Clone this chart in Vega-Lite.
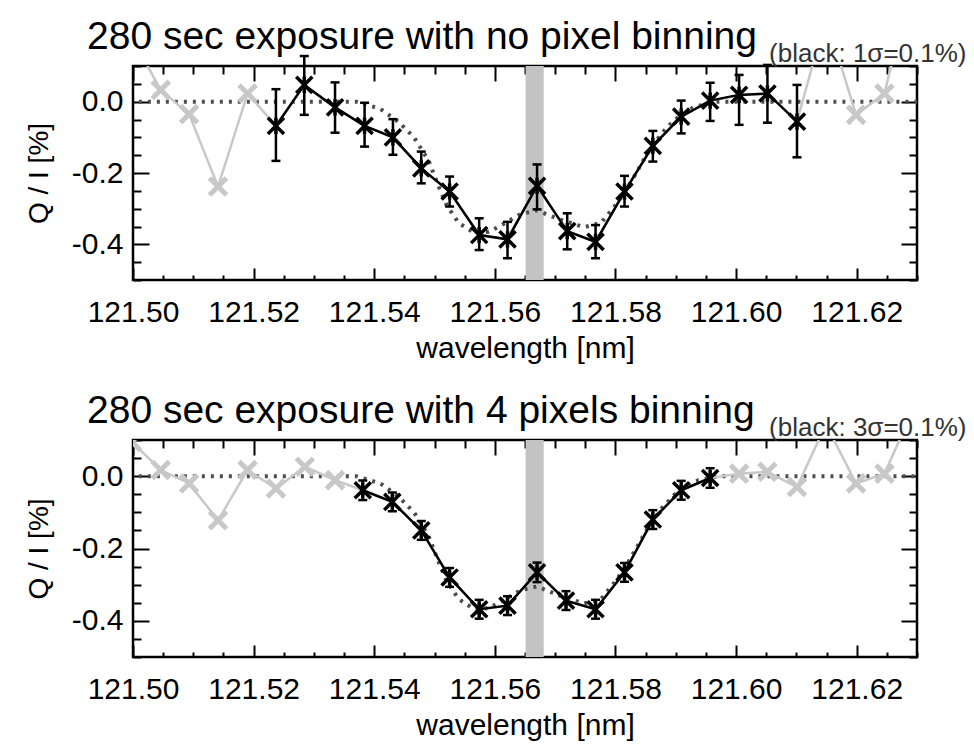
{
  "$schema": "https://vega.github.io/schema/vega-lite/v6.json",
  "background": "white",
  "padding": {"left": 24, "top": 16, "right": 5, "bottom": 5},
  "spacing": 25,
  "config": {
    "font": "Liberation Sans",
    "view": {"stroke": "black", "strokeWidth": 2.5, "fill": "white"},
    "axis": {"grid": false, "domain": false, "labelFont": "Liberation Sans", "titleFont": "Liberation Sans", "labelColor": "#000", "titleColor": "#000", "titleFontWeight": "normal", "tickColor": "#000"},
    "title": {"font": "Liberation Sans", "fontWeight": "normal", "color": "#000"}
  },
  "datasets": {
    "p1": [
      {"wl": 121.4998, "q": 0.18, "grp": "g"},
      {"wl": 121.5046, "q": 0.033, "grp": "g"},
      {"wl": 121.5093, "q": -0.035, "grp": "g"},
      {"wl": 121.5141, "q": -0.238, "grp": "g"},
      {"wl": 121.5190, "q": 0.023, "grp": "g"},
      {"wl": 121.5237, "q": -0.068, "lo": -0.166, "hi": 0.035, "grp": "b"},
      {"wl": 121.5284, "q": 0.047, "lo": -0.037, "hi": 0.128, "grp": "b"},
      {"wl": 121.5335, "q": -0.016, "lo": -0.087, "hi": 0.054, "grp": "b"},
      {"wl": 121.5384, "q": -0.068, "lo": -0.126, "hi": -0.003, "grp": "b"},
      {"wl": 121.5431, "q": -0.100, "lo": -0.149, "hi": -0.049, "grp": "b"},
      {"wl": 121.5478, "q": -0.187, "lo": -0.229, "hi": -0.140, "grp": "b"},
      {"wl": 121.5525, "q": -0.252, "lo": -0.294, "hi": -0.210, "grp": "b"},
      {"wl": 121.5574, "q": -0.374, "lo": -0.416, "hi": -0.327, "grp": "b"},
      {"wl": 121.5621, "q": -0.386, "lo": -0.439, "hi": -0.337, "grp": "b"},
      {"wl": 121.5670, "q": -0.236, "lo": -0.302, "hi": -0.176, "grp": "b"},
      {"wl": 121.5720, "q": -0.363, "lo": -0.414, "hi": -0.313, "grp": "b"},
      {"wl": 121.5767, "q": -0.393, "lo": -0.439, "hi": -0.346, "grp": "b"},
      {"wl": 121.5815, "q": -0.252, "lo": -0.294, "hi": -0.208, "grp": "b"},
      {"wl": 121.5862, "q": -0.124, "lo": -0.168, "hi": -0.082, "grp": "b"},
      {"wl": 121.5909, "q": -0.042, "lo": -0.089, "hi": 0.003, "grp": "b"},
      {"wl": 121.5957, "q": 0.003, "lo": -0.054, "hi": 0.053, "grp": "b"},
      {"wl": 121.6005, "q": 0.019, "lo": -0.065, "hi": 0.075, "grp": "b"},
      {"wl": 121.6052, "q": 0.023, "lo": -0.059, "hi": 0.103, "grp": "b"},
      {"wl": 121.6101, "q": -0.056, "lo": -0.156, "hi": 0.047, "grp": "b"},
      {"wl": 121.6149, "q": 0.239, "grp": "g"},
      {"wl": 121.6199, "q": -0.037, "grp": "g"},
      {"wl": 121.6246, "q": 0.023, "grp": "g"},
      {"wl": 121.6295, "q": 0.36, "grp": "g"}
    ],
    "p2": [
      {"wl": 121.4998, "q": 0.095, "grp": "g"},
      {"wl": 121.5046, "q": 0.017, "grp": "g"},
      {"wl": 121.5093, "q": -0.020, "grp": "g"},
      {"wl": 121.5141, "q": -0.122, "grp": "g"},
      {"wl": 121.5190, "q": 0.017, "grp": "g"},
      {"wl": 121.5237, "q": -0.034, "grp": "g"},
      {"wl": 121.5285, "q": 0.026, "grp": "g"},
      {"wl": 121.5335, "q": -0.011, "grp": "g"},
      {"wl": 121.5381, "q": -0.039, "lo": -0.066, "hi": -0.012, "grp": "b"},
      {"wl": 121.5430, "q": -0.071, "lo": -0.097, "hi": -0.045, "grp": "b"},
      {"wl": 121.5478, "q": -0.150, "lo": -0.176, "hi": -0.124, "grp": "b"},
      {"wl": 121.5525, "q": -0.280, "lo": -0.306, "hi": -0.254, "grp": "b"},
      {"wl": 121.5574, "q": -0.368, "lo": -0.394, "hi": -0.342, "grp": "b"},
      {"wl": 121.5621, "q": -0.358, "lo": -0.384, "hi": -0.332, "grp": "b"},
      {"wl": 121.5670, "q": -0.266, "lo": -0.293, "hi": -0.239, "grp": "b"},
      {"wl": 121.5718, "q": -0.344, "lo": -0.370, "hi": -0.318, "grp": "b"},
      {"wl": 121.5767, "q": -0.368, "lo": -0.394, "hi": -0.342, "grp": "b"},
      {"wl": 121.5815, "q": -0.266, "lo": -0.292, "hi": -0.240, "grp": "b"},
      {"wl": 121.5862, "q": -0.120, "lo": -0.146, "hi": -0.094, "grp": "b"},
      {"wl": 121.5909, "q": -0.039, "lo": -0.065, "hi": -0.013, "grp": "b"},
      {"wl": 121.5957, "q": -0.005, "lo": -0.032, "hi": 0.022, "grp": "b"},
      {"wl": 121.6005, "q": 0.007, "grp": "g"},
      {"wl": 121.6052, "q": 0.012, "grp": "g"},
      {"wl": 121.6101, "q": -0.030, "grp": "g"},
      {"wl": 121.6149, "q": 0.143, "grp": "g"},
      {"wl": 121.6199, "q": -0.020, "grp": "g"},
      {"wl": 121.6246, "q": 0.007, "grp": "g"},
      {"wl": 121.6295, "q": 0.189, "grp": "g"}
    ],
    "model": [
      {"wl": 121.495, "m": 0.0},
      {"wl": 121.537, "m": 0.0},
      {"wl": 121.541, "m": -0.02},
      {"wl": 121.544, "m": -0.056},
      {"wl": 121.5466, "m": -0.10},
      {"wl": 121.549, "m": -0.165},
      {"wl": 121.5505, "m": -0.23},
      {"wl": 121.552, "m": -0.29},
      {"wl": 121.554, "m": -0.34},
      {"wl": 121.5566, "m": -0.368},
      {"wl": 121.559, "m": -0.365},
      {"wl": 121.5605, "m": -0.352},
      {"wl": 121.5643, "m": -0.315},
      {"wl": 121.567, "m": -0.305},
      {"wl": 121.5707, "m": -0.33},
      {"wl": 121.5748, "m": -0.352},
      {"wl": 121.5776, "m": -0.34},
      {"wl": 121.5798, "m": -0.295},
      {"wl": 121.5815, "m": -0.255},
      {"wl": 121.5831, "m": -0.21},
      {"wl": 121.5853, "m": -0.145},
      {"wl": 121.5876, "m": -0.09},
      {"wl": 121.5898, "m": -0.051},
      {"wl": 121.5931, "m": -0.014},
      {"wl": 121.597, "m": 0.0},
      {"wl": 121.635, "m": 0.0}
    ],
    "band": [{"w1": 121.5651, "w2": 121.5681}]
  },
  "vconcat": [
    {
      "width": 784, "height": 214,
      "title": {"text": "280 sec exposure with no pixel binning", "anchor": "start", "frame": "group", "dx": -46, "fontSize": 39, "baseline": "alphabetic", "offset": -48},
      "layer": [
        {
          "data": {"name": "band"},
          "mark": {"type": "rect", "color": "#c3c3c3"},
          "encoding": {
            "x": {"field": "w1", "type": "quantitative", "scale": {"domain": [121.50, 121.63], "nice": false, "zero": false},
              "axis": {"orient": "bottom", "title": "wavelength [nm]", "values": [121.50, 121.52, 121.54, 121.56, 121.58, 121.60, 121.62], "format": ".2f", "ticks": false, "tickSize": 0, "labelPadding": 17, "labelFontSize": 30, "titleFontSize": 30, "titlePadding": 6, "labelFlush": false}},
            "x2": {"field": "w2"}
          }
        },
        {
          "data": {"name": "model"},
          "mark": {"type": "line", "color": "#4d4d4d", "strokeWidth": 4, "strokeDash": [3, 6], "clip": true},
          "encoding": {
            "x": {"field": "wl", "type": "quantitative", "axis": {"orient": "top", "offset": -214, "values": [121.50,121.505,121.51,121.515,121.52,121.525,121.53,121.535,121.54,121.545,121.55,121.555,121.56,121.565,121.57,121.575,121.58,121.585,121.59,121.595,121.60,121.605,121.61,121.615,121.62,121.625,121.63], "labels": false, "title": null, "tickWidth": 2, "tickSize": {"condition": {"test": "abs(datum.value*50 - round(datum.value*50)) < 0.01", "value": 12}, "value": 5}, "minExtent": 0, "maxExtent": 0}},
            "y": {"field": "m", "type": "quantitative", "scale": {"domain": [-0.5, 0.1], "nice": false, "zero": false},
              "axis": {"orient": "left", "title": "Q / I [%]", "values": [-0.4, -0.2, 0], "labelExpr": "replace(format(datum.value, '.1f'), '−', '-')", "ticks": false, "tickSize": 0, "labelPadding": 10, "labelFontSize": 30, "titleFontSize": 28, "titlePadding": 18}}
          }
        },
        {
          "data": {"name": "p1"},
          "mark": {"type": "line", "color": "#c8c8c8", "strokeWidth": 2.5, "clip": true},
          "encoding": {
            "x": {"field": "wl", "type": "quantitative", "axis": {"orient": "bottom", "offset": -214, "values": [121.50,121.505,121.51,121.515,121.52,121.525,121.53,121.535,121.54,121.545,121.55,121.555,121.56,121.565,121.57,121.575,121.58,121.585,121.59,121.595,121.60,121.605,121.61,121.615,121.62,121.625,121.63], "labels": false, "title": null, "tickWidth": 2, "tickSize": {"condition": {"test": "abs(datum.value*50 - round(datum.value*50)) < 0.01", "value": 15}, "value": 8}, "minExtent": 0, "maxExtent": 0}},
            "y": {"field": "q", "type": "quantitative", "axis": {"orient": "right", "offset": -784, "values": [-0.5,-0.45,-0.4,-0.35,-0.3,-0.25,-0.2,-0.15,-0.1,-0.05,0,0.05,0.1], "labels": false, "title": null, "tickWidth": 2, "tickSize": {"condition": {"test": "abs(datum.value*5 - round(datum.value*5)) < 0.01", "value": 16}, "value": 8}, "minExtent": 0, "maxExtent": 0}}
          }
        },
        {
          "data": {"name": "p1"},
          "transform": [{"filter": "datum.grp == 'g'"}],
          "mark": {"type": "point", "shape": "M-1,-1L1,1M-1,1L1,-1", "size": 290, "strokeWidth": 5, "color": "#c8c8c8", "filled": false, "opacity": 1, "clip": true},
          "encoding": {
            "x": {"field": "wl", "type": "quantitative", "axis": {"orient": "top", "ticks": false, "labels": false, "title": "(black: 1σ=0.1%)", "titleFontSize": 26, "titleColor": "#333", "titleAnchor": "end", "titleAlign": "right", "titleBaseline": "alphabetic", "titleX": 833, "titleY": -5}},
            "y": {"field": "q", "type": "quantitative", "axis": {"orient": "left", "offset": -784, "values": [-0.5,-0.45,-0.4,-0.35,-0.3,-0.25,-0.2,-0.15,-0.1,-0.05,0,0.05,0.1], "labels": false, "title": null, "tickWidth": 2, "tickSize": {"condition": {"test": "abs(datum.value*5 - round(datum.value*5)) < 0.01", "value": 16}, "value": 8}, "minExtent": 0, "maxExtent": 0}}
          }
        },
        {
          "data": {"name": "p1"},
          "transform": [{"filter": "datum.grp == 'b'"}],
          "layer": [
            {"mark": {"type": "line", "color": "black", "strokeWidth": 2.5}, "encoding": {"x": {"field": "wl", "type": "quantitative", "axis": null}, "y": {"field": "q", "type": "quantitative", "axis": null}}},
            {"mark": {"type": "rule", "color": "black", "strokeWidth": 2.5}, "encoding": {"x": {"field": "wl", "type": "quantitative", "axis": null}, "y": {"field": "lo", "type": "quantitative", "axis": null}, "y2": {"field": "hi"}}},
            {"mark": {"type": "tick", "orient": "horizontal", "color": "black", "size": 9, "thickness": 2.5, "opacity": 1}, "encoding": {"x": {"field": "wl", "type": "quantitative", "axis": null}, "y": {"field": "lo", "type": "quantitative", "axis": null}}},
            {"mark": {"type": "tick", "orient": "horizontal", "color": "black", "size": 9, "thickness": 2.5, "opacity": 1}, "encoding": {"x": {"field": "wl", "type": "quantitative", "axis": null}, "y": {"field": "hi", "type": "quantitative", "axis": null}}},
            {"mark": {"type": "point", "shape": "M-1,-1L1,1M-1,1L1,-1M0,-1L0,1", "size": 260, "strokeWidth": 3.5, "color": "black", "filled": false, "opacity": 1}, "encoding": {"x": {"field": "wl", "type": "quantitative", "axis": null}, "y": {"field": "q", "type": "quantitative", "axis": null}}}
          ]
        }
      ]
    },
    {
      "width": 784, "height": 217,
      "title": {"text": "280 sec exposure with 4 pixels binning", "anchor": "start", "frame": "group", "dx": -46, "fontSize": 39, "baseline": "alphabetic", "offset": -48},
      "layer": [
        {
          "data": {"name": "band"},
          "mark": {"type": "rect", "color": "#c3c3c3"},
          "encoding": {
            "x": {"field": "w1", "type": "quantitative", "scale": {"domain": [121.50, 121.63], "nice": false, "zero": false},
              "axis": {"orient": "bottom", "title": "wavelength [nm]", "values": [121.50, 121.52, 121.54, 121.56, 121.58, 121.60, 121.62], "format": ".2f", "ticks": false, "tickSize": 0, "labelPadding": 17, "labelFontSize": 30, "titleFontSize": 30, "titlePadding": 6, "labelFlush": false}},
            "x2": {"field": "w2"}
          }
        },
        {
          "data": {"name": "model"},
          "mark": {"type": "line", "color": "#4d4d4d", "strokeWidth": 4, "strokeDash": [3, 6], "clip": true},
          "encoding": {
            "x": {"field": "wl", "type": "quantitative", "axis": {"orient": "top", "offset": -217, "values": [121.50,121.505,121.51,121.515,121.52,121.525,121.53,121.535,121.54,121.545,121.55,121.555,121.56,121.565,121.57,121.575,121.58,121.585,121.59,121.595,121.60,121.605,121.61,121.615,121.62,121.625,121.63], "labels": false, "title": null, "tickWidth": 2, "tickSize": {"condition": {"test": "abs(datum.value*50 - round(datum.value*50)) < 0.01", "value": 12}, "value": 5}, "minExtent": 0, "maxExtent": 0}},
            "y": {"field": "m", "type": "quantitative", "scale": {"domain": [-0.5, 0.1], "nice": false, "zero": false},
              "axis": {"orient": "left", "title": "Q / I [%]", "values": [-0.4, -0.2, 0], "labelExpr": "replace(format(datum.value, '.1f'), '−', '-')", "ticks": false, "tickSize": 0, "labelPadding": 10, "labelFontSize": 30, "titleFontSize": 28, "titlePadding": 18}}
          }
        },
        {
          "data": {"name": "p2"},
          "mark": {"type": "line", "color": "#c8c8c8", "strokeWidth": 2.5, "clip": true},
          "encoding": {
            "x": {"field": "wl", "type": "quantitative", "axis": {"orient": "bottom", "offset": -217, "values": [121.50,121.505,121.51,121.515,121.52,121.525,121.53,121.535,121.54,121.545,121.55,121.555,121.56,121.565,121.57,121.575,121.58,121.585,121.59,121.595,121.60,121.605,121.61,121.615,121.62,121.625,121.63], "labels": false, "title": null, "tickWidth": 2, "tickSize": {"condition": {"test": "abs(datum.value*50 - round(datum.value*50)) < 0.01", "value": 15}, "value": 8}, "minExtent": 0, "maxExtent": 0}},
            "y": {"field": "q", "type": "quantitative", "axis": {"orient": "right", "offset": -784, "values": [-0.5,-0.45,-0.4,-0.35,-0.3,-0.25,-0.2,-0.15,-0.1,-0.05,0,0.05,0.1], "labels": false, "title": null, "tickWidth": 2, "tickSize": {"condition": {"test": "abs(datum.value*5 - round(datum.value*5)) < 0.01", "value": 16}, "value": 8}, "minExtent": 0, "maxExtent": 0}}
          }
        },
        {
          "data": {"name": "p2"},
          "transform": [{"filter": "datum.grp == 'g'"}],
          "mark": {"type": "point", "shape": "M-1,-1L1,1M-1,1L1,-1", "size": 290, "strokeWidth": 5, "color": "#c8c8c8", "filled": false, "opacity": 1, "clip": true},
          "encoding": {
            "x": {"field": "wl", "type": "quantitative", "axis": {"orient": "top", "ticks": false, "labels": false, "title": "(black: 3σ=0.1%)", "titleFontSize": 26, "titleColor": "#333", "titleAnchor": "end", "titleAlign": "right", "titleBaseline": "alphabetic", "titleX": 833, "titleY": -5}},
            "y": {"field": "q", "type": "quantitative", "axis": {"orient": "left", "offset": -784, "values": [-0.5,-0.45,-0.4,-0.35,-0.3,-0.25,-0.2,-0.15,-0.1,-0.05,0,0.05,0.1], "labels": false, "title": null, "tickWidth": 2, "tickSize": {"condition": {"test": "abs(datum.value*5 - round(datum.value*5)) < 0.01", "value": 16}, "value": 8}, "minExtent": 0, "maxExtent": 0}}
          }
        },
        {
          "data": {"name": "p2"},
          "transform": [{"filter": "datum.grp == 'b'"}],
          "layer": [
            {"mark": {"type": "line", "color": "black", "strokeWidth": 2.5}, "encoding": {"x": {"field": "wl", "type": "quantitative", "axis": null}, "y": {"field": "q", "type": "quantitative", "axis": null}}},
            {"mark": {"type": "rule", "color": "black", "strokeWidth": 2.5}, "encoding": {"x": {"field": "wl", "type": "quantitative", "axis": null}, "y": {"field": "lo", "type": "quantitative", "axis": null}, "y2": {"field": "hi"}}},
            {"mark": {"type": "tick", "orient": "horizontal", "color": "black", "size": 9, "thickness": 2.5, "opacity": 1}, "encoding": {"x": {"field": "wl", "type": "quantitative", "axis": null}, "y": {"field": "lo", "type": "quantitative", "axis": null}}},
            {"mark": {"type": "tick", "orient": "horizontal", "color": "black", "size": 9, "thickness": 2.5, "opacity": 1}, "encoding": {"x": {"field": "wl", "type": "quantitative", "axis": null}, "y": {"field": "hi", "type": "quantitative", "axis": null}}},
            {"mark": {"type": "point", "shape": "M-1,-1L1,1M-1,1L1,-1M0,-1L0,1", "size": 260, "strokeWidth": 3.5, "color": "black", "filled": false, "opacity": 1}, "encoding": {"x": {"field": "wl", "type": "quantitative", "axis": null}, "y": {"field": "q", "type": "quantitative", "axis": null}}}
          ]
        }
      ]
    }
  ]
}
